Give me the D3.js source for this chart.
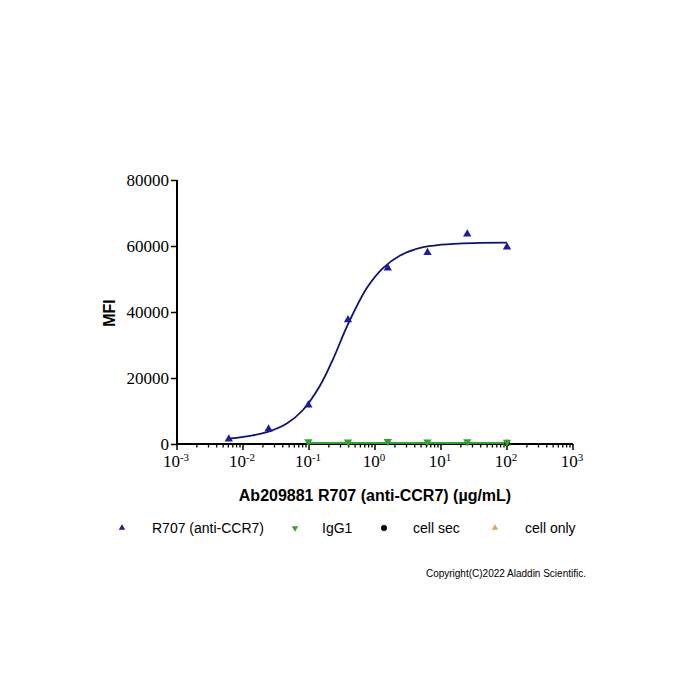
<!DOCTYPE html>
<html>
<head>
<meta charset="utf-8">
<script src="https://cdn.jsdelivr.net/npm/d3@7"></script>
<style>
  body { margin: 0; background: #fff; }
  svg { display: block; }
  .serif { font-family: "Liberation Serif", "DejaVu Serif", serif; }
  .sans { font-family: "Liberation Sans", Arial, sans-serif; }
</style>
</head>
<body>
<div id="root"></div>
<script>
// concentrations (ug/mL), 4-fold dilution series
const concR707 = [0.0061, 0.0244, 0.0977, 0.39, 1.5625, 6.25, 25, 100];
const mfiR707 = [1500, 4500, 11800, 37600, 53300, 58000, 63600, 59700];

const concIgG1 = [0.0977, 0.39, 1.5625, 6.25, 25, 100];
const mfiIgG1 = [400, 350, 450, 300, 400, 250];

const concCellSec = [100];
const mfiCellSec = [250];
const concCellOnly = [100];
const mfiCellOnly = [200];

// fitted curve
const curveConc = [0.0061, 0.0141, 0.0257, 0.0467, 0.081, 0.148, 0.229, 0.39, 0.76, 1.32, 2.4, 5.0, 10, 31.6, 100];
const curveMfi = [1600, 2600, 3900, 6300, 10300, 17800, 25500, 36300, 47400, 53300, 57100, 59500, 60400, 60900, 61000];
const igg1Fit = [320, 320];

const yTicks = [0, 20000, 40000, 60000, 80000];
const xTickExp = [-3, -2, -1, 0, 1, 2, 3];

const legendNames = ["R707 (anti-CCR7)", "IgG1", "cell sec", "cell only"];

const width = 700;
const height = 700;

const svg = d3.select("#root")
  .append("svg")
  .attr("width", width)
  .attr("height", height);

const x = d3.scaleLog().domain([1e-3, 1e3]).range([177, 573]);
const y = d3.scaleLinear().domain([0, 80000]).range([444, 180]);

const blue = "#1c1c9c";
const navy = "#101274";
const green = "#32a032";

// Y axis
const yAxis = d3.axisLeft(y).tickValues(yTicks).tickFormat(d3.format("d")).tickSize(6).tickSizeOuter(0);
const gy = svg.append("g").attr("transform", "translate(177,0)").call(yAxis);
gy.attr("font-family", null);
gy.select(".domain").attr("stroke-width", 2).attr("d", `M0,${y(80000)}V${y(0)}`);
gy.selectAll(".tick line").attr("stroke-width", 1.5);
gy.selectAll(".tick text")
  .attr("class", "serif")
  .attr("font-size", 17)
  .attr("fill", "#000")
  .attr("x", -8);

// X axis
const gx = svg.append("g").attr("transform", "translate(0,444)");
gx.append("line")
  .attr("x1", x(1e-3)).attr("x2", x(1e3))
  .attr("stroke", "#000").attr("stroke-width", 2);

let minors = [];
for (let e = -3; e < 3; e++) {
  for (let m = 2; m <= 9; m++) minors.push(m * Math.pow(10, e));
}
gx.selectAll(".minor")
  .data(minors)
  .join("line")
  .attr("class", "minor")
  .attr("x1", (d) => x(d)).attr("x2", (d) => x(d))
  .attr("y1", 0).attr("y2", 3.5)
  .attr("stroke", "#000").attr("stroke-width", 1.3);

gx.selectAll(".major")
  .data(xTickExp)
  .join("line")
  .attr("class", "major")
  .attr("x1", (d) => x(Math.pow(10, d))).attr("x2", (d) => x(Math.pow(10, d)))
  .attr("y1", 0).attr("y2", 6)
  .attr("stroke", "#000").attr("stroke-width", 1.5);

const xLab = gx.selectAll(".xlab")
  .data(xTickExp)
  .join("text")
  .attr("class", "xlab serif")
  .attr("x", (d) => x(Math.pow(10, d)) - 1)
  .attr("y", 23)
  .attr("text-anchor", "middle")
  .attr("font-size", 17)
  .attr("fill", "#000");
xLab.append("tspan").text("10");
xLab.append("tspan")
  .attr("dy", -6)
  .attr("font-size", 11)
  .text((d) => d);

// axis titles
svg.append("text")
  .attr("class", "sans")
  .attr("x", 375)
  .attr("y", 501)
  .attr("text-anchor", "middle")
  .attr("font-weight", "bold")
  .attr("font-size", 16)
  .text("Ab209881 R707 (anti-CCR7) (µg/mL)");

svg.append("text")
  .attr("class", "sans")
  .attr("transform", "translate(115,313) rotate(-90)")
  .attr("text-anchor", "middle")
  .attr("font-weight", "bold")
  .attr("font-size", 16)
  .text("MFI");

// fitted curves
const line = d3.line()
  .x((d) => x(d[0]))
  .y((d) => y(d[1]))
  .curve(d3.curveCatmullRom.alpha(0.5));

svg.append("path")
  .datum(d3.zip(curveConc, curveMfi))
  .attr("d", line)
  .attr("fill", "none")
  .attr("stroke", navy)
  .attr("stroke-width", 1.8);

svg.append("path")
  .datum(d3.zip([concIgG1[0], concIgG1[concIgG1.length - 1]], igg1Fit))
  .attr("d", d3.line().x((d) => x(d[0])).y((d) => y(d[1])))
  .attr("fill", "none")
  .attr("stroke", green)
  .attr("stroke-width", 2);

// points
const tri = d3.symbol().type(d3.symbolTriangle).size(30);

svg.selectAll(".cellonly")
  .data(d3.zip(concCellOnly, mfiCellOnly))
  .join("path")
  .attr("class", "cellonly")
  .attr("d", tri)
  .attr("transform", (d) => `translate(${x(d[0])},${y(d[1])})`)
  .attr("fill", "#d9a21e");

svg.selectAll(".cellsec")
  .data(d3.zip(concCellSec, mfiCellSec))
  .join("circle")
  .attr("class", "cellsec")
  .attr("cx", (d) => x(d[0]))
  .attr("cy", (d) => y(d[1]))
  .attr("r", 3)
  .attr("fill", "#000");

svg.selectAll(".igg1")
  .data(d3.zip(concIgG1, mfiIgG1))
  .join("path")
  .attr("class", "igg1")
  .attr("d", tri)
  .attr("transform", (d) => `translate(${x(d[0])},${y(d[1]) - 1}) rotate(180)`)
  .attr("fill", green);

svg.selectAll(".r707")
  .data(d3.zip(concR707, mfiR707))
  .join("path")
  .attr("class", "r707")
  .attr("d", tri)
  .attr("transform", (d) => `translate(${x(d[0])},${y(d[1])})`)
  .attr("fill", blue);

// Legend
const legendX = [122, 295, 384, 495];
const legendTextX = [152, 322, 413, 525];
const legend = svg.append("g").attr("transform", "translate(0,528)");

const smallTri = d3.symbol().type(d3.symbolTriangle).size(18);
legend.append("path").attr("d", smallTri).attr("transform", `translate(${legendX[0]},0)`).attr("fill", blue);
legend.append("path").attr("d", smallTri).attr("transform", `translate(${legendX[1]},0) rotate(180)`).attr("fill", green);
legend.append("circle").attr("cx", legendX[2]).attr("cy", 0).attr("r", 3).attr("fill", "#000");
legend.append("path").attr("d", smallTri).attr("transform", `translate(${legendX[3]},0)`).attr("fill", "#d9a84a");

legend.selectAll(".ltext")
  .data(legendNames)
  .join("text")
  .attr("class", "ltext sans")
  .attr("x", (d, i) => legendTextX[i])
  .attr("y", 5)
  .attr("font-size", 14)
  .attr("fill", "#000")
  .text((d) => d);

svg.append("text")
  .attr("class", "sans")
  .attr("x", 586)
  .attr("y", 577)
  .attr("text-anchor", "end")
  .attr("font-size", 10)
  .attr("fill", "#000")
  .text("Copyright(C)2022 Aladdin Scientific.");
</script>
</body>
</html>
